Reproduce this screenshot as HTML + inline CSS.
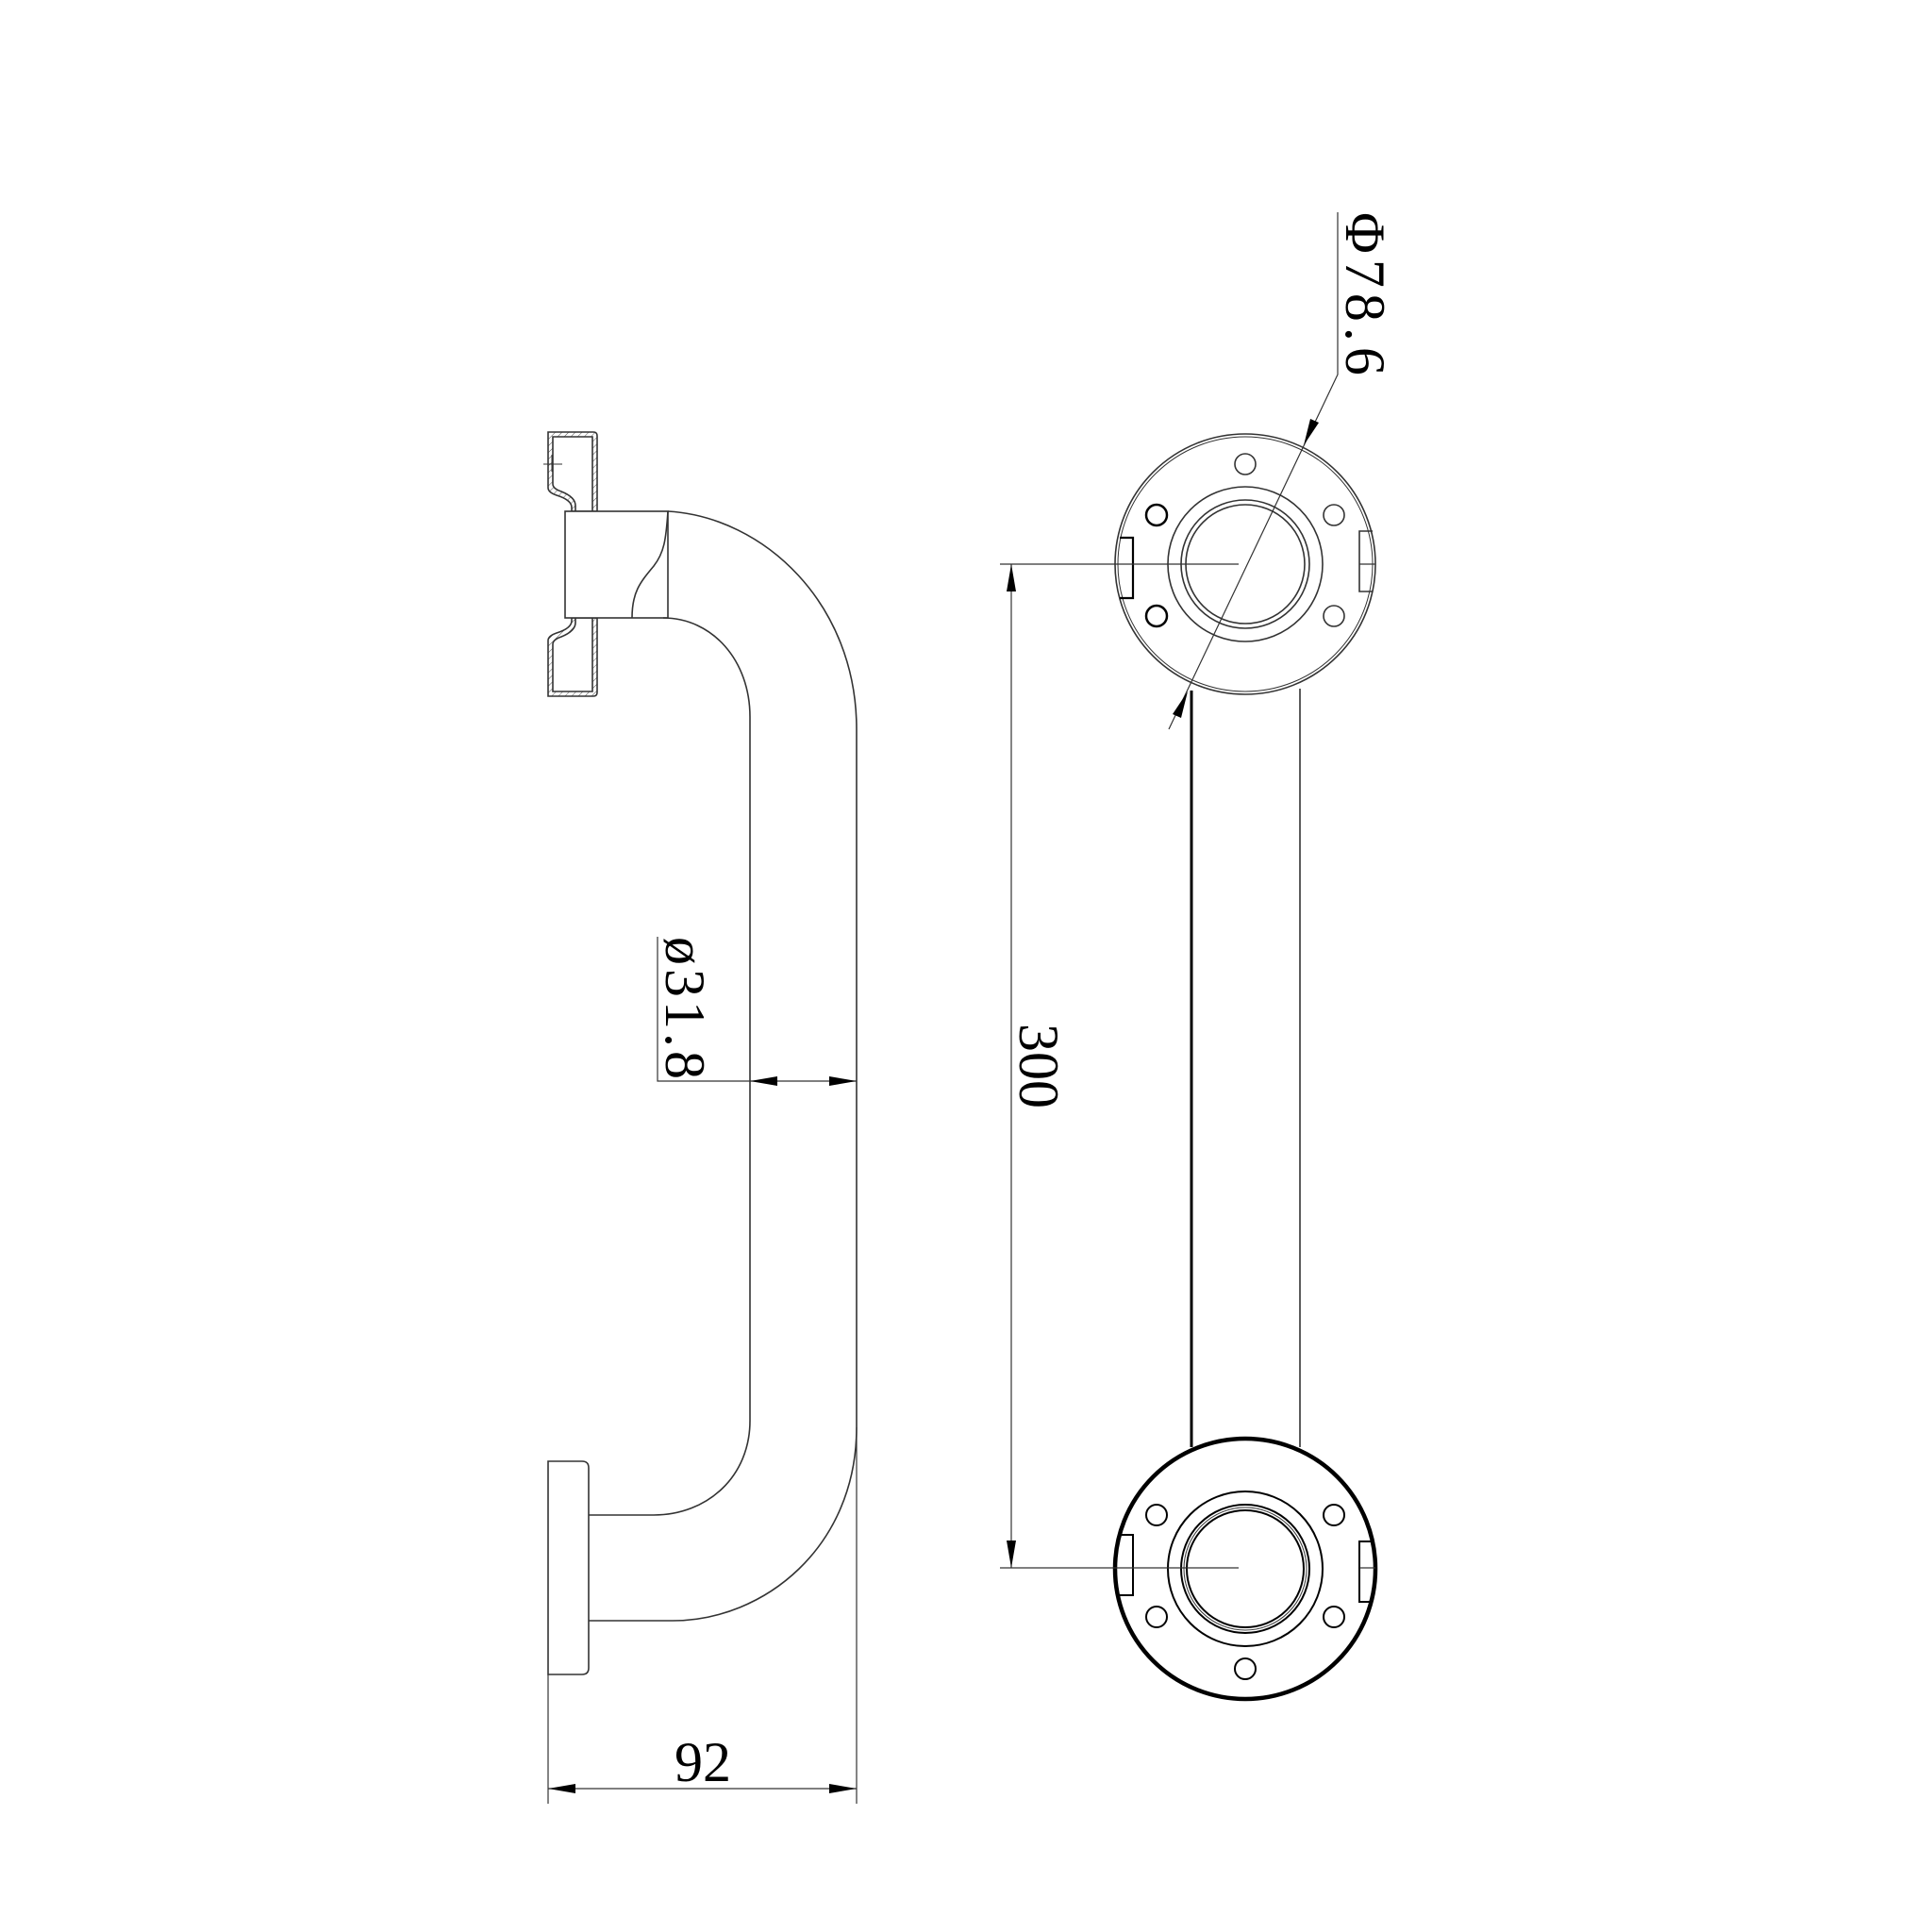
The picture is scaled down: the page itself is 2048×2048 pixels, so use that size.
<!DOCTYPE html>
<html><head><meta charset="utf-8"><style>
html,body{margin:0;padding:0;background:#fff;}
svg{display:block;}
text{font-family:"Liberation Serif",serif;fill:#000;}
</style></head><body>
<svg width="2048" height="2048" viewBox="0 0 2048 2048" xmlns="http://www.w3.org/2000/svg">
<defs>
<pattern id="h" width="5" height="5" patternUnits="userSpaceOnUse" patternTransform="rotate(45)">
<line x1="0" y1="0" x2="0" y2="5" stroke="#555" stroke-width="1"/></pattern>
</defs>
<g fill="none" stroke="#333" stroke-width="1.6">
<!-- top flange section (thin wall) -->
<path fill-rule="evenodd" fill="url(#h)" d="M633,542 V462 Q633,458 629,458 H581 V517 Q581,522 590,525 Q606,530 606,538 V542 Z M628,542 V463 H586 V513 Q586,518 595,521 Q610,527 610,536 V542 Z"/>
<path fill-rule="evenodd" fill="url(#h)" d="M633,655 V734 Q633,738 629,738 H581 V679 Q581,674 590,671 Q606,666 606,658 V655 Z M628,655 V733 H586 V683 Q586,678 595,675 Q610,669 610,660 V655 Z"/>
<line x1="576" y1="492" x2="596" y2="492" stroke-width="1"/>
<line x1="585" y1="482" x2="585" y2="500" stroke-width="1"/>
<!-- collar -->
<rect x="599" y="542" width="109" height="113" fill="#fff"/>
<path d="M708,542 C706,572 704,586 693,600 C678,618 670,628 670,655"/>
<!-- tube -->
<path d="M708,542 C810,548 908,640 908,773 V1513 C908,1640 810,1718 713,1718 H624"/>
<path d="M703,655 C755,655 795,700 795,760 V1506 C795,1565 750,1606 693,1606 H624"/>
<!-- bottom flange -->
<path d="M581,1549 H617 Q624,1549 624,1556 V1768 Q624,1775 617,1775 H581 Z"/>
<!-- 92 dim -->
<line x1="581" y1="1775" x2="581" y2="1912" stroke-width="1.2"/>
<line x1="908" y1="1513" x2="908" y2="1912" stroke-width="1.2"/>
<line x1="581" y1="1896" x2="908" y2="1896" stroke-width="1.2"/>
<!-- 31.8 dim -->
<polyline points="697,993 697,1146 908,1146" stroke-width="1.2"/>
<!-- right view tube -->
<line x1="1263" y1="732" x2="1263" y2="1534" stroke="#000" stroke-width="3"/>
<line x1="1378" y1="730" x2="1378" y2="1534" stroke-width="1.6"/>
<!-- top circle -->
<circle cx="1320" cy="598" r="138"/>
<circle cx="1320" cy="598" r="135" stroke-width="1"/>
<circle cx="1320" cy="598" r="82"/>
<circle cx="1320" cy="598" r="68"/>
<circle cx="1320" cy="598" r="63"/>
<circle cx="1320" cy="492" r="11"/>
<circle cx="1226" cy="546" r="11" stroke="#000" stroke-width="2.5"/>
<circle cx="1414" cy="546" r="11"/>
<circle cx="1226" cy="653" r="11" stroke="#000" stroke-width="2.5"/>
<circle cx="1414" cy="653" r="11"/>
<path d="M1187,570 H1201 V634 H1187" stroke="#000" stroke-width="2.2"/>
<path d="M1455,563 H1441 V627 H1455"/>
<line x1="1060" y1="598" x2="1313" y2="598" stroke-width="1.2"/>
<line x1="1441" y1="598" x2="1458" y2="598" stroke-width="1.2"/>
<!-- bottom circle -->
<circle cx="1320" cy="1663" r="138" stroke="#000" stroke-width="4.5"/>
<circle cx="1320" cy="1663" r="82" stroke="#000" stroke-width="2"/>
<circle cx="1320" cy="1663" r="68" stroke="#000" stroke-width="2"/>
<circle cx="1320" cy="1663" r="65" stroke-width="1"/>
<circle cx="1320" cy="1663" r="62" stroke="#000" stroke-width="2"/>
<circle cx="1226" cy="1606" r="11" stroke="#000" stroke-width="2"/>
<circle cx="1414" cy="1606" r="11" stroke="#000" stroke-width="2"/>
<circle cx="1226" cy="1714" r="11" stroke="#000" stroke-width="2"/>
<circle cx="1414" cy="1714" r="11" stroke="#000" stroke-width="2"/>
<circle cx="1320" cy="1769" r="11" stroke="#000" stroke-width="2"/>
<path d="M1187,1627 H1201 V1691 H1187" stroke="#000" stroke-width="2"/>
<path d="M1455,1634 H1441 V1698 H1455" stroke="#000" stroke-width="2"/>
<line x1="1060" y1="1662" x2="1313" y2="1662" stroke-width="1.2"/>
<line x1="1441" y1="1662" x2="1458" y2="1662" stroke-width="1.2"/>
<!-- 300 dim -->
<line x1="1072" y1="598" x2="1072" y2="1662" stroke-width="1.2"/>
<!-- phi 78.6 -->
<polyline points="1418,225 1418,397 1239,773" stroke-width="1.2"/>
</g>
<g fill="#000" stroke="none">
<polygon points="581,1896 610,1891 610,1901"/>
<polygon points="908,1896 879,1891 879,1901"/>
<polygon points="795,1146 824,1141 824,1151"/>
<polygon points="908,1146 879,1141 879,1151"/>
<polygon points="1072,598 1067,627 1077,627"/>
<polygon points="1072,1662 1067,1633 1077,1633"/>
<polygon points="1382,472 1389,444 1398,448"/>
<polygon points="1259,733 1252,761 1243,757"/>
</g>
<text x="745" y="1888" font-size="60" text-anchor="middle">92</text>
<text transform="translate(706,993) rotate(90)" font-size="60" letter-spacing="4">ø31.8</text>
<text transform="translate(1081,1130) rotate(90)" font-size="60" text-anchor="middle">300</text>
<text transform="translate(1427,225) rotate(90)" font-size="60" letter-spacing="6">Φ78.6</text>
</svg>
</body></html>
